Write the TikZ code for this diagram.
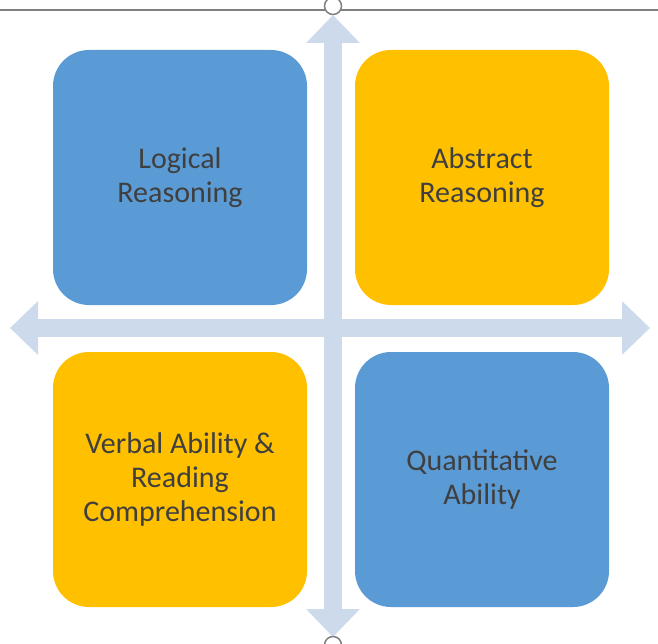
\documentclass[tikz,border=0pt]{standalone}
\usepackage{fontspec}
\setmainfont{Carlito}
\usetikzlibrary{arrows.meta,positioning}
\definecolor{tileblue}{HTML}{5B9BD5}
\definecolor{tilegold}{HTML}{FFC000}
\definecolor{crossblue}{HTML}{CDDAEC}
\definecolor{labelgray}{HTML}{3F3F3F}

\begin{document}
\begin{tikzpicture}[x=1pt, y=-1pt, node distance=302pt,
	tile/.style={rounded corners=36pt, minimum width=254pt, minimum height=255pt, align=center, text=labelgray, font=\fontsize{30}{34}\selectfont},
	cross/.style={draw=crossblue, line width=18pt, {Triangle[length=28pt,width=52pt]}-{Triangle[length=28pt,width=52pt]}},
	handle/.style={circle, draw=gray, fill=white, line width=1.5pt, minimum size=17pt, inner sep=0pt}]
	\fill[white] (0,0) rectangle (658,644);
	\useasboundingbox (0,0) rectangle (658,644);

	% frame edge and cross
	\coordinate (frameL) at (0,10);
	\coordinate (frameR) at (658,10);
	\draw[gray, line width=1.5pt] (frameL) -- (frameR);
	\coordinate (crossN) at (333,15);
	\coordinate (crossS) at (333,637);
	\coordinate (crossW) at (10,328);
	\coordinate (crossE) at (650,328);
	\draw[cross] (crossN) -- (crossS);
	\draw[cross] (crossW) -- (crossE);

	% tiles
	\node[tile, fill=tileblue] (logical) at (180,177.5) {Logical\\Reasoning};
	\node[tile, fill=tilegold] (abstract) [right of=logical] {Abstract\\Reasoning};
	\node[tile, fill=tilegold] (verbal) [below of=logical] {Verbal Ability \&\\Reading\\Comprehension};
	\node[tile, fill=tileblue] (quant) [right of=verbal] {Quantitative\\Ability};

	% handles
	\node[handle] (topHandle) at (333,6) {};
	\node[handle] (bottomHandle) at (333,645) {};
\end{tikzpicture}
\end{document}
